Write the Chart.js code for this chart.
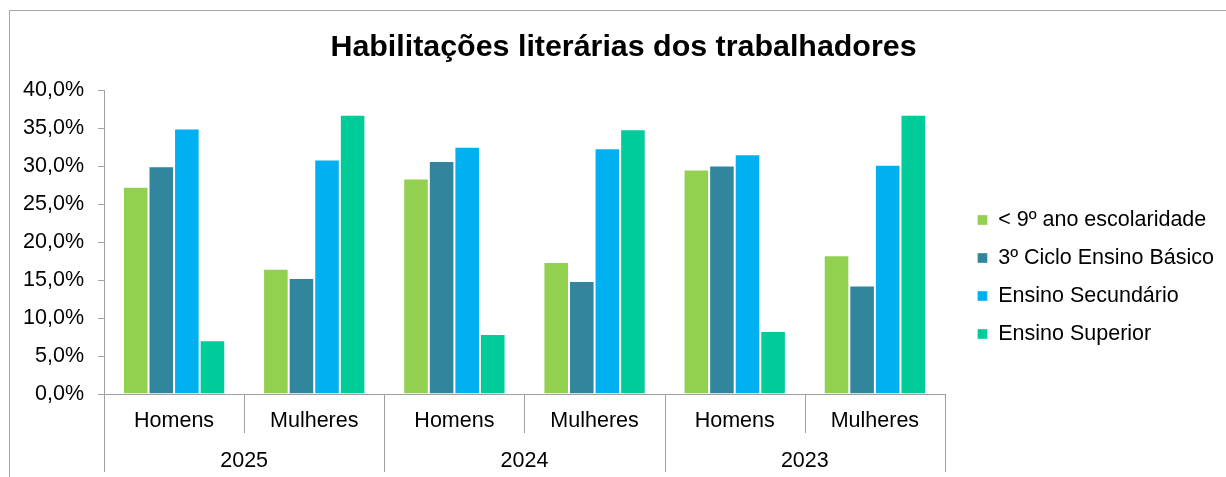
<!DOCTYPE html>
<html>
<head>
<meta charset="utf-8">
<script src="https://cdn.jsdelivr.net/npm/chart.js@4"></script>
<style>
  html, body { margin: 0; padding: 0; background: #fff; overflow: hidden; }
  #frame { position: absolute; left: 9px; top: 10px; width: 1400px; height: 600px; border: 1px solid #a6a6a6; }
  #wrap { position: absolute; left: 0; top: 0; width: 1226px; height: 477px; }
</style>
</head>
<body>
<div id="frame"></div>
<div id="wrap"><canvas id="chart" width="1226" height="477"></canvas></div>
<script>
const categories = ['Homens', 'Mulheres', 'Homens', 'Mulheres', 'Homens', 'Mulheres'];
const years = ['2025', '2024', '2023'];
const seriesNames = ['< 9º ano escolaridade', '3º Ciclo Ensino Básico', 'Ensino Secundário', 'Ensino Superior'];
const abaixo9 = [27.3, 16.5, 28.4, 17.4, 29.6, 18.3];
const ciclo3 = [30.0, 15.3, 30.7, 14.9, 30.1, 14.3];
const secundario = [35.0, 30.9, 32.6, 32.4, 31.6, 30.2];
const superior = [7.1, 36.8, 7.9, 34.9, 8.3, 36.8];
const colors = ['#92D050', '#31859C', '#00B0F0', '#00CC99'];

const axisGray = '#a0a0a0';
const font = 'Liberation Sans, Arial, sans-serif';
const fs = 21.5;

// separators below the x axis (category boundaries), drawn from the x scale
const separators = {
    id: 'separators',
    afterDraw(chart) {
        const x = chart.scales.x;
        const ctx = chart.ctx;
        const n = categories.length;
        const bottom = chart.scales.x2.bottom - 2;
        const mid = x.top + 39;
        ctx.save();
        ctx.strokeStyle = axisGray;
        ctx.lineWidth = 1;
        for (let i = 0; i <= n; i++) {
            let px;
            if (i === 0) px = x.left;
            else if (i === n) px = x.right;
            else px = (x.getPixelForTick(i - 1) + x.getPixelForTick(i)) / 2;
            px = Math.round(px) + 0.5;
            ctx.beginPath();
            ctx.moveTo(px, x.top);
            ctx.lineTo(px, i % 2 === 0 ? bottom : mid);
            ctx.stroke();
        }
        ctx.restore();
    }
};

const ctx = document.getElementById('chart').getContext('2d');
new Chart(ctx, {
    type: 'bar',
    data: {
        labels: categories,
        datasets: [abaixo9, ciclo3, secundario, superior].map((d, i) => ({
            label: seriesNames[i],
            data: d,
            backgroundColor: colors[i],
            borderColor: 'rgba(255,255,255,0.35)',
            borderWidth: 1,
            xAxisID: 'x'
        }))
    },
    options: {
        responsive: false,
        animation: false,
        categoryPercentage: 0.73,
        barPercentage: 1.0,
        layout: { padding: { left: 23, right: 2, top: 0, bottom: 3 } },
        plugins: {
            title: {
                display: true,
                text: 'Habilitações literárias dos trabalhadores',
                color: '#000',
                font: { family: font, size: 30.4, weight: 'bold' },
                padding: { top: 29, bottom: 25 }
            },
            legend: {
                position: 'right',
                maxWidth: 300,
                title: { display: true, text: ' ', font: { size: 10, lineHeight: 1 }, padding: { top: 70, bottom: 0 } },
                labels: {
                    color: '#000',
                    font: { family: font, size: fs, lineHeight: 1 },
                    boxWidth: 10,
                    boxHeight: 10,
                    padding: 16.5
                }
            },
            tooltip: { enabled: false }
        },
        scales: {
            x: {
                position: 'bottom',
                offset: true,
                grid: { display: false, drawTicks: false },
                border: { display: true, color: axisGray },
                ticks: { color: '#000', font: { family: font, size: fs, lineHeight: 1 }, padding: 16, maxRotation: 0 }
            },
            x2: {
                type: 'category',
                position: 'bottom',
                labels: years,
                offset: true,
                grid: { display: false, drawTicks: false },
                border: { display: false },
                ticks: { color: '#000', font: { family: font, size: fs, lineHeight: 1 }, padding: 2.5, maxRotation: 0 }
            },
            y: {
                min: 0,
                max: 40,
                ticks: {
                    stepSize: 5,
                    color: '#000',
                    font: { family: font, size: fs },
                    padding: 14,
                    callback: v => v.toFixed(1).replace('.', ',') + '%'
                },
                grid: { drawOnChartArea: false, drawTicks: true, tickLength: 6, color: axisGray },
                border: { display: true, color: axisGray },
                afterFit: s => { s.width = 81; }
            },
            // empty right axis: only keeps a gap between plot and legend
            gap: {
                position: 'right',
                display: true,
                grid: { display: false, drawTicks: false },
                border: { display: false },
                ticks: { display: false },
                afterFit: s => { s.width = 16; }
            }
        }
    },
    plugins: [separators]
});
</script>
</body>
</html>
